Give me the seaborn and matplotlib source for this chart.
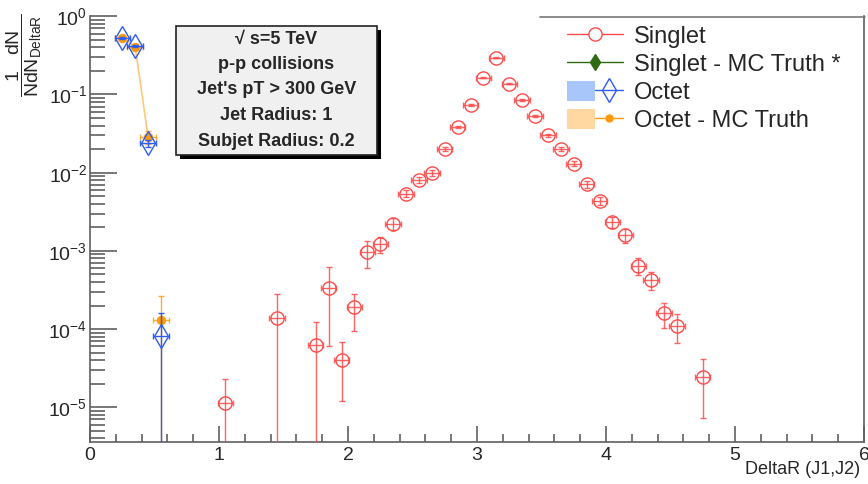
import numpy as np
import pandas as pd
import matplotlib
matplotlib.use("Agg")
import matplotlib.pyplot as plt
import seaborn as sns
from matplotlib.lines import Line2D
from matplotlib.patches import Patch, Rectangle
from matplotlib.legend_handler import HandlerTuple
from matplotlib.ticker import LogLocator, LogFormatterSciNotation, MultipleLocator, NullFormatter

# ---------------- data ----------------
singlet_x = [1.05, 1.45, 1.75, 1.85, 1.95, 2.05, 2.15, 2.25, 2.35, 2.45, 2.55, 2.65, 2.75,
             2.85, 2.95, 3.05, 3.15, 3.25, 3.35, 3.45, 3.55, 3.65, 3.75, 3.85, 3.95, 4.05,
             4.15, 4.25, 4.35, 4.45, 4.55, 4.75]
singlet_y = [1.15e-5, 1.4e-4, 6.2e-5, 3.4e-4, 4.0e-5, 1.9e-4, 9.7e-4, 1.22e-3, 2.23e-3,
             5.4e-3, 8.0e-3, 9.9e-3, 2.03e-2, 3.85e-2, 7.3e-2, 0.164, 0.296, 0.138, 0.0843,
             0.053, 0.030, 0.0203, 0.0131, 7.1e-3, 4.4e-3, 2.34e-3, 1.58e-3, 6.5e-4, 4.3e-4,
             1.6e-4, 1.11e-4, 2.44e-5]
singlet_err = [1.15e-5, 1.4e-4, 6.2e-5, 2.8e-4, 2.8e-5, 0.95e-4, 3.6e-4, 2.7e-4, 3.8e-4,
               5.8e-4, 7.0e-4, 7.8e-4, 1.1e-3, 1.5e-3, 2.1e-3, 3.2e-3, 4.2e-3, 2.9e-3, 2.3e-3,
               1.8e-3, 1.35e-3, 1.1e-3, 0.9e-3, 0.66e-3, 0.52e-3, 0.38e-3, 0.31e-3, 1.6e-4,
               1.1e-4, 0.56e-4, 0.44e-4, 1.7e-5]

octet_x = [0.25, 0.35, 0.45, 0.55]
octet_y = [0.53, 0.417, 0.024, 8.1e-5]
octet_err = [0.012, 0.010, 0.0025, 8.1e-5]

octet_mc_y = [0.53, 0.41, 0.0286, 1.32e-4]
octet_mc_err = [0.02, 0.018, 0.0055, 1.33e-4]

legend_labels = ["Singlet", "Singlet - MC Truth *", "Octet", "Octet - MC Truth"]
info_lines = ["\u221a s=5 TeV", "p-p collisions", "Jet's pT > 300 GeV",
              "Jet Radius: 1", "Subjet Radius: 0.2"]

# ---------------- style ----------------
sns.set_style("ticks")
plt.rcParams["font.family"] = ["Liberation Sans", "DejaVu Sans"]
plt.rcParams["mathtext.fontset"] = "custom"
plt.rcParams["mathtext.rm"] = "Liberation Sans"
plt.rcParams["mathtext.it"] = "Liberation Sans"
plt.rcParams["mathtext.bf"] = "Liberation Sans:bold"

RED = "#ff4a4a"
BLUE = "#2f5cf5"
BLUE_BAND = "#a9c6fb"
ORANGE = "#ff9a0a"
ORANGE_LINE = "#ffc878"
ORANGE_BAND = "#ffd7a0"
GREEN = "#2f6a12"
AXC = "#606060"

W, H = 868, 484
fig = plt.figure(figsize=(W / 100, H / 100), dpi=100)
ax = fig.add_axes([90 / W, 1 - 441.7 / H, (864 - 90) / W, (441.7 - 16.3) / H])
ax.set_yscale("log", nonpositive="clip")
ax.set_xlim(0, 6)
ax.set_ylim(3.63e-6, 1.0)

df_s = pd.DataFrame({"x": singlet_x, "y": singlet_y, "e": singlet_err})
df_o = pd.DataFrame({"x": octet_x, "y": octet_y, "e": octet_err})
df_om = pd.DataFrame({"x": octet_x, "y": octet_mc_y, "e": octet_mc_err})

# Octet MC truth: connecting line, error bars, markers
sns.lineplot(data=df_om.iloc[:3], x="x", y="y", ax=ax, color=ORANGE_LINE, lw=1.2,
             estimator=None, errorbar=None, sort=False, zorder=1)
ax.errorbar(df_om["x"], df_om["y"], yerr=df_om["e"], xerr=0.06, fmt="none",
            ecolor=ORANGE, elinewidth=1, capsize=2, capthick=1, alpha=0.8, zorder=2)
sns.lineplot(data=df_om, x="x", y="y", ax=ax, ls="", marker="o", markersize=6,
             markerfacecolor=ORANGE, markeredgecolor=ORANGE, estimator=None,
             errorbar=None, zorder=3)

# Octet
ax.errorbar(df_o["x"], df_o["y"], yerr=df_o["e"], xerr=0.06, fmt="none",
            ecolor=BLUE, elinewidth=1, capsize=2, capthick=1, alpha=1.0, zorder=4)
sns.lineplot(data=df_o, x="x", y="y", ax=ax, ls="", marker="d", markersize=12.5,
             markerfacecolor="none", markeredgecolor=BLUE, markeredgewidth=1,
             estimator=None, errorbar=None, zorder=5)

# Singlet
ax.errorbar(df_s["x"], df_s["y"], yerr=df_s["e"], xerr=0.06, fmt="none",
            ecolor=RED, elinewidth=1, capsize=2, capthick=1, alpha=0.85, zorder=6)
sns.lineplot(data=df_s, x="x", y="y", ax=ax, ls="", marker="o", markersize=9.5,
             markerfacecolor="none", markeredgecolor=RED, markeredgewidth=1,
             estimator=None, errorbar=None, zorder=7)

# ---------------- axes ----------------
ax.set_xlabel("")
ax.set_ylabel("")
for s in ["left", "bottom", "right"]:
    ax.spines[s].set_color(AXC)
    ax.spines[s].set_linewidth(1.2)
ax.spines["top"].set_visible(False)

ax.xaxis.set_major_locator(MultipleLocator(1))
ax.xaxis.set_minor_locator(MultipleLocator(0.2))
ax.yaxis.set_major_locator(LogLocator(base=10, numticks=20))
ax.yaxis.set_minor_locator(LogLocator(base=10, subs=np.arange(2, 10), numticks=20))
ax.yaxis.set_major_formatter(LogFormatterSciNotation())
ax.yaxis.set_minor_formatter(NullFormatter())

ax.tick_params(axis="x", which="major", direction="in", length=11.5, width=1.2,
               color=AXC, labelsize=14, pad=4, top=False)
ax.tick_params(axis="x", which="minor", direction="in", length=6, width=1.2,
               color=AXC, top=False)
ax.tick_params(axis="y", which="major", direction="in", length=19.5, width=1.2,
               color=AXC, labelsize=14, pad=2, right=False)
ax.tick_params(axis="y", which="minor", direction="in", length=10.5, width=1.2,
               color=AXC, right=False)

fig.text(860 / W, 1 - 470 / H, "DeltaR (J1,J2)", ha="right", va="center", fontsize=13)
fig.text(24 / W, 1 - 55 / H, r"$\dfrac{1\ \ \ dN}{NdN_{\mathrm{DeltaR}}}$",
         rotation=90, ha="center", va="center", fontsize=14)

# ---------------- info box ----------------
bx0, by0, bx1, by1 = 176, 26, 377, 155
fig.patches.append(Rectangle(((bx0 + 4) / W, 1 - (by1 + 4) / H), (bx1 - bx0) / W,
                             (by1 - by0) / H, transform=fig.transFigure,
                             facecolor="black", edgecolor="none", zorder=10))
fig.patches.append(Rectangle((bx0 / W, 1 - by1 / H), (bx1 - bx0) / W, (by1 - by0) / H,
                             transform=fig.transFigure, facecolor="#f0f0f0",
                             edgecolor="#222222", linewidth=1.2, zorder=11))
for i, line in enumerate(info_lines):
    fig.text((bx0 + bx1) / 2 / W, 1 - (39 + i * 25.5) / H, line, ha="center",
             va="center", fontsize=13, fontweight="bold", zorder=12)

# ---------------- legend ----------------
h_s = Line2D([], [], color=RED, lw=1, marker="o", markersize=9.5,
             markerfacecolor="white", markeredgecolor=RED)
h_sm = Line2D([], [], color=GREEN, lw=1, marker="d", markersize=8,
              markerfacecolor=GREEN, markeredgecolor=GREEN)
h_o = (Patch(facecolor=BLUE_BAND, edgecolor="none"),
       Line2D([], [], color=BLUE, lw=1, marker="d", markersize=12.5,
              markerfacecolor="none", markeredgecolor=BLUE))
h_om = (Patch(facecolor=ORANGE_BAND, edgecolor="none"),
        Line2D([], [], color=ORANGE, lw=1, marker="o", markersize=5,
               markerfacecolor=ORANGE, markeredgecolor=ORANGE))
leg = fig.legend([h_s, h_sm, h_o, h_om], legend_labels, loc="upper left",
                 bbox_to_anchor=(567 / W, 1 - 24.5 / H), frameon=False, fontsize=17,
                 handlelength=2.37, handleheight=0.95, handletextpad=0.45,
                 labelspacing=0.2, borderpad=0, borderaxespad=0,
                 handler_map={tuple: HandlerTuple(ndivide=None)})
fig.add_artist(Line2D([540 / W, 865 / W], [1 - 17 / H, 1 - 17 / H],
                      transform=fig.transFigure, color="#777777", lw=1.2))

fig.savefig("out.png", dpi=100)
